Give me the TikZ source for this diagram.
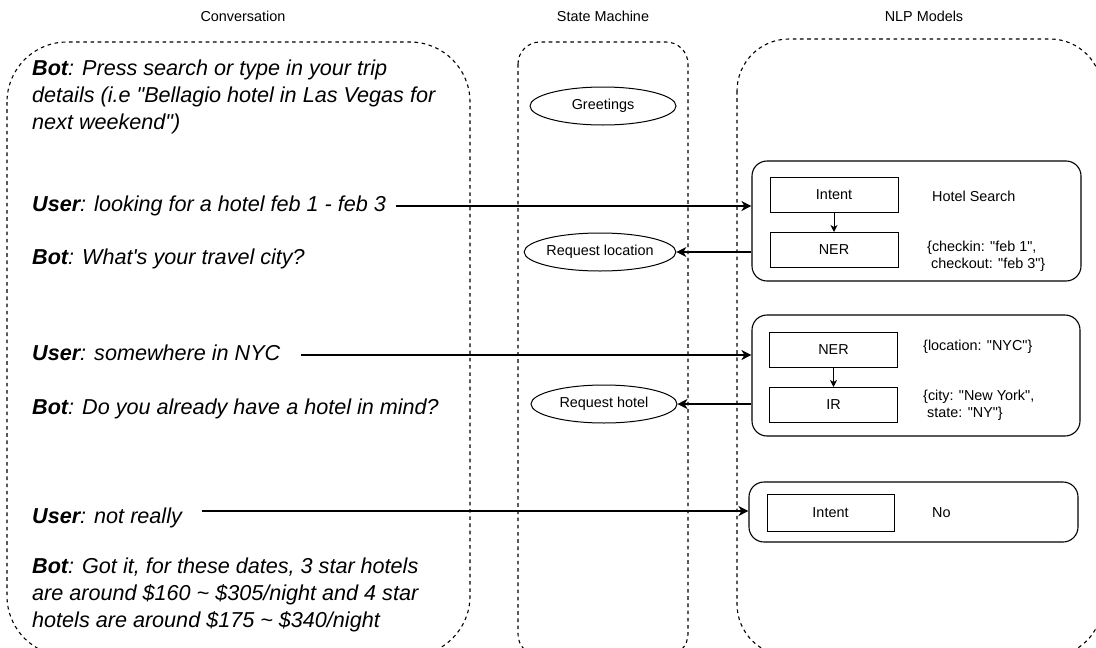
\documentclass[tikz,border=0pt]{standalone}
\usepackage{fontspec}
\newfontfamily\convfont{Liberation Sans}
\newfontfamily\smallfont{Liberation Sans}
\usetikzlibrary{arrows.meta,shapes.geometric}
\begin{document}
\begin{tikzpicture}[x=1pt,y=-1pt,
  small/.style={font=\smallfont\fontsize{14.4}{17.3}\selectfont},
  lane/.style={draw=black, line width=1.1pt, dash pattern=on 3.6pt off 3.6pt},
  title/.style={small, inner sep=0pt},
  conv/.style={font=\convfont\itshape\fontsize{21.6}{26.5}\selectfont, anchor=base west, inner xsep=0pt, inner ysep=0pt, text height=16pt, text depth=5pt},
  convm/.style={font=\convfont\itshape\fontsize{21.6}{27}\selectfont, align=left, anchor=base west, inner xsep=0pt, inner ysep=0pt},
  group/.style={draw=black, line width=1.1pt, rounded corners=15pt, inner sep=0pt},
  mbox/.style={draw=black, line width=1pt, small, minimum width=128pt, minimum height=35pt, inner sep=0pt},
  state/.style={draw=black, line width=1pt, ellipse, small, minimum width=146pt, minimum height=38pt, inner sep=0pt},
  lbl/.style={small, anchor=west, inner sep=0pt, align=left},
  arrow/.style={draw=black, line width=1.1pt, -{Stealth[length=10pt,width=10pt,inset=3pt]}},
  sarrow/.style={draw=black, line width=1pt, -{Stealth[length=7pt,width=7pt,inset=2pt]}}
]
\useasboundingbox (0,0) rectangle (1096,648);
\fill[white] (0,0) rectangle (1096,648);
\begin{scope}
\clip (0,0) rectangle (1096,648);
% lanes
\draw[lane, rounded corners=60pt] (7,42) rectangle (470,656);
\draw[lane, rounded corners=22pt] (518,42) rectangle (688,656);
\draw[lane, rounded corners=52pt] (737,39) rectangle (1102,656);
\end{scope}
% titles
\node[title] (tc) at (243,16) {Conversation};
\node[title] (ts) at (603,16) {State Machine};
\node[title] (tn) at (924,16) {NLP Models};

% conversation
\node[convm] (b1) at (32,129.5) {\textbf{Bot}: Press search or type in your trip\\details (i.e "Bellagio hotel in Las Vegas for\\next weekend")};
\node[conv] (u1) at (32,211.5) {\textbf{User}: looking for a hotel feb 1 - feb 3};
\node[conv] (b2) at (32,264) {\textbf{Bot}: What's your travel city?};
\node[conv] (u2) at (32,360.5) {\textbf{User}: somewhere in NYC};
\node[conv] (b3) at (32,414) {\textbf{Bot}: Do you already have a hotel in mind?};
\node[conv, text height=27pt, text depth=3pt] (u3) at (32,523) {\textbf{User}: not really};
\node[convm] (b4) at (32,627) {\textbf{Bot}: Got it, for these dates, 3 star hotels\\are around \$160 \textasciitilde{} \$305/night and 4 star\\hotels are around \$175 \textasciitilde{} \$340/night};

% state machine
\node[state] (g) at (603,106) {Greetings};
\node[state] (rl) at (600,252) {Request location};
\node[state] (rh) at (604,404) {Request hotel};

% NLP groups
\node[group, minimum width=329pt, minimum height=120pt] (m1) at (916.5,221) {};
\node[group, minimum width=328pt, minimum height=121pt] (m2) at (916,375.5) {};
\node[group, minimum width=329pt, minimum height=60pt] (m3) at (913.5,512) {};

\node[mbox] (i1) at (834,194.5) {Intent};
\node[mbox] (n1) at (834,250) {NER};
\node[mbox] (n2) at (833.5,350) {NER};
\node[mbox] (r2) at (833.5,405) {IR};
\node[mbox, minimum width=127pt, minimum height=37pt] (i3) at (830.5,512.5) {Intent};

\node[lbl] (l1) at (932,196) {Hotel Search};
\node[lbl] (l2) at (927,256) {\{checkin: "feb 1",\\ \ checkout: "feb 3"\}};
\node[lbl] (l3) at (923,347) {\{location: "NYC"\}};
\node[lbl] (l4) at (923,405) {\{city: "New York",\\ \ state: "NY"\}};
\node[lbl] (l5) at (932,513) {No};

% connectors
\draw[arrow] ([xshift=10pt]u1.east) -- (u1.east -| m1.west);
\draw[arrow] (m1.west |- rl.east) -- (rl.east);
\draw[arrow] ([xshift=20pt]u2.east) -- (u2.east -| m2.west);
\draw[arrow] (m2.west |- rh.east) -- (rh.east);
\draw[arrow] ([xshift=20pt]u3.east) -- (u3.east -| m3.west);
\draw[sarrow] (i1) -- (n1);
\draw[sarrow] (n2) -- (r2);
\end{tikzpicture}
\end{document}
